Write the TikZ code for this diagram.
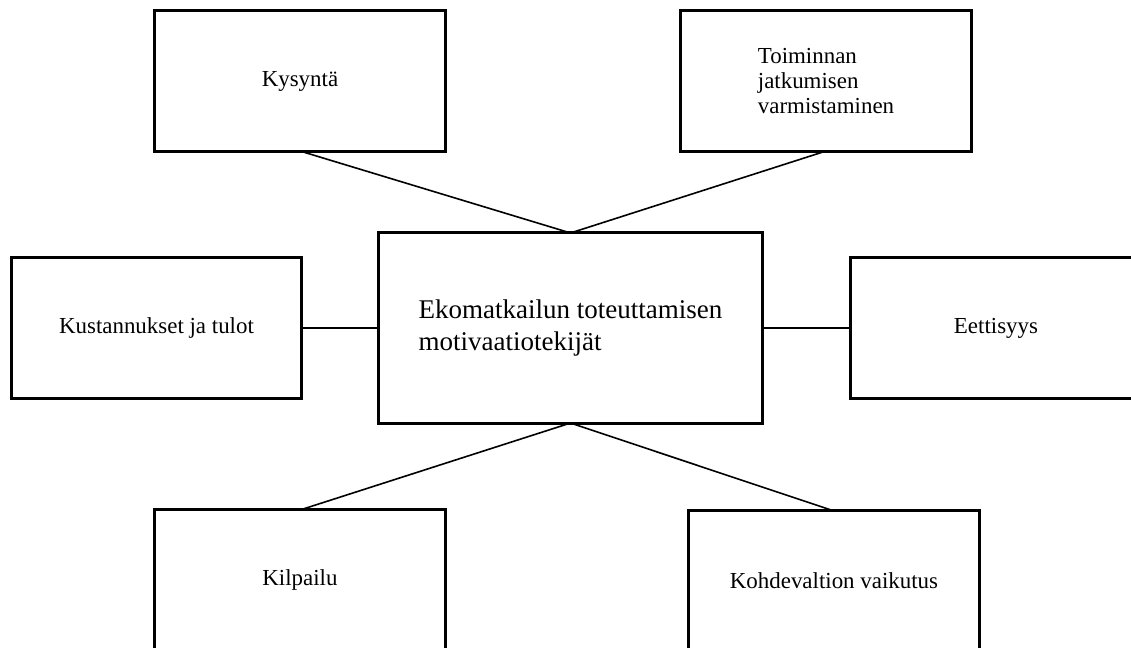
\documentclass[tikz,border=0pt]{standalone}
\usepackage{fontspec}
\setmainfont{Liberation Serif}
\begin{document}
\begin{tikzpicture}[x=0.025cm, y=-0.025cm, line join=miter, line cap=rect,
	tekija/.style={draw, line width=0.075cm, minimum width=7.25cm, minimum height=3.5cm, outer sep=0pt, align=left, font=\fontsize{16.3}{18}\selectfont},
	paalaatikko/.style={draw, line width=0.075cm, minimum width=9.575cm, minimum height=4.75cm, outer sep=0pt, align=left, font=\fontsize{19.2}{23.4}\selectfont},
	yhteys/.style={line width=0.04cm}]
	
	\clip (0, 0) rectangle (1131, 647);
	
	% Keskellä
	\node[paalaatikko] (motiivit) at (570.5, 328) {Ekomatkailun toteuttamisen\\motivaatiotekijät};
	
	% Ylärivi
	\node[tekija] (kysynta) at (300, 81) {Kysyntä};
	\node[tekija] (jatkuvuus) at (826, 81) {Toiminnan\\jatkumisen\\varmistaminen};
	
	% Keskirivi
	\node[tekija] (kustannukset) at (156.5, 328) {Kustannukset ja tulot};
	\node[tekija] (eettisyys) at (996, 328) {Eettisyys};
	
	% Alarivi
	\node[tekija] (kilpailu) at (300, 580) {Kilpailu};
	\node[tekija] (kohdevaltio) at (834, 581) {Kohdevaltion vaikutus};
	
	% Yhteydet
	\draw[yhteys] (kysynta.south) -- (motiivit.north);
	\draw[yhteys] (jatkuvuus.south) -- (motiivit.north);
	\draw[yhteys] (kustannukset.east) -- (motiivit.west);
	\draw[yhteys] (motiivit.east) -- (eettisyys.west);
	\draw[yhteys] (motiivit.south) -- (kilpailu.north);
	\draw[yhteys] (motiivit.south) -- (kohdevaltio.north);
	
\end{tikzpicture}
\end{document}
